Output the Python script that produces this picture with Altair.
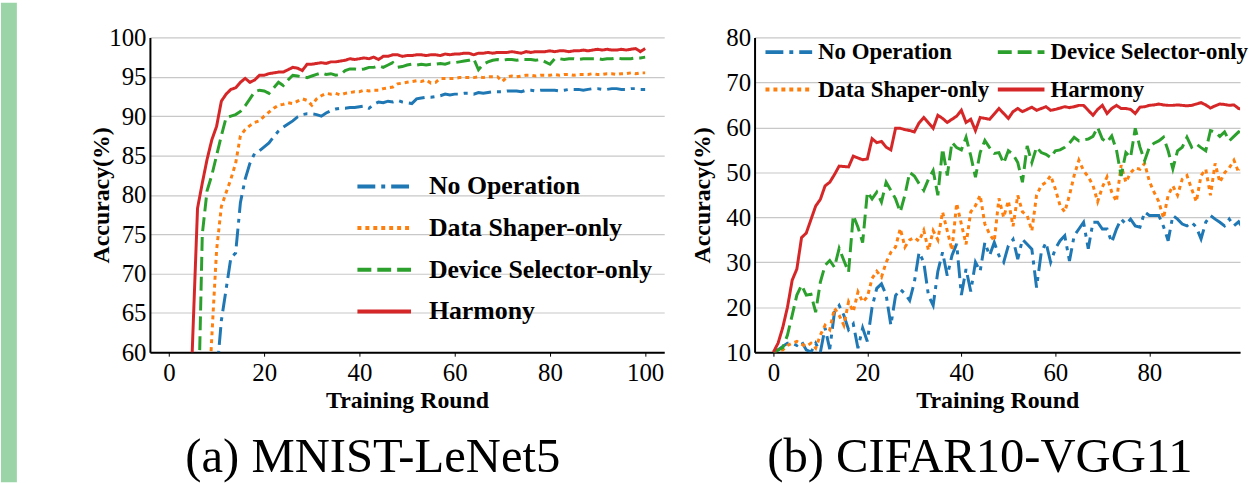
import altair as alt
import pandas as pd

rounds = list(range(101))
series_names = ["No Operation", "Data Shaper-only", "Device Selector-only", "Harmony"]
series_colors = ["#1f77b4", "#ff7f0e", "#2ca02c", "#d62728"]
series_dashes = [[18, 6, 4, 6], [4, 4], [14, 6], [1, 0]]

# (a) MNIST-LeNet5 accuracy per training round
mnist_noop = [10, 12, 14, 17, 20, 24, 28, 32, 36, 40, 57, 64, 68, 72, 72.6, 79, 82, 84, 85.3, 85.6,
              86.1, 86.6, 87.4, 88.1, 88.6, 89, 89.4, 89.9, 90.2, 90.3, 90.3, 90.2, 90, 90.4, 90.7, 90.9, 91, 91, 91.1, 91.1,
              91.2, 91.3, 91, 91.5, 91.8, 91.7, 91.9, 91.8, 92, 91.8, 91.7, 91.6, 92.2, 92.3, 92.4, 92.4, 92.5, 92.6, 92.8, 92.7,
              92.8, 92.8, 92.9, 92.9, 92.8, 93, 92.9, 93, 93.1, 93.1, 93.1, 93.2, 93.2, 93.2, 93.1, 93.3, 93.3, 93.2, 93.3, 93.3,
              93.3, 93.3, 93.2, 93.3, 93.4, 93.4, 93.4, 93.3, 93.4, 93.5, 93.5, 93.4, 93.4, 93.5, 93.5, 93.4, 93.4, 93.5, 93.5, 93.4,
              93.4]
mnist_shaper = [10, 13, 16, 20, 25, 30, 36, 42, 50, 62, 73, 78.5, 80.3, 82, 84, 87.5, 88.3, 88.8, 89.2, 89.4,
                90, 90.5, 91, 91.4, 91.5, 91.7, 91.6, 91.9, 92.2, 92, 91.4, 92.2, 92.6, 92.9, 92.8, 92.9, 92.7, 92.9, 93, 93.1,
                93.1, 93.3, 93.2, 93.3, 93.3, 93.5, 93.6, 93.7, 94.1, 94.2, 94.3, 94.4, 94.5, 94.4, 94.6, 94.2, 94.3, 94.8, 94.8, 94.8,
                94.8, 94.9, 94.9, 94.9, 94.9, 95, 94.9, 95, 95, 95, 94.4, 95, 95.1, 95, 95.1, 95.2, 95.2, 95.1, 95.2, 95.2,
                95.2, 95.3, 95.2, 95.3, 95.3, 95.2, 95.3, 95.3, 95.3, 95.4, 95.3, 95.3, 95.4, 95.4, 95.3, 95.4, 95.4, 95.5, 95.4, 95.5,
                95.5]
mnist_selector = [10, 14, 20, 30, 40, 45, 48, 75, 80.5, 82.5, 85, 87.5, 89.8, 90, 90.2, 90.6, 91.3, 92.2, 93.1, 93.3,
                  93.2, 92.9, 93.6, 94.3, 93.9, 94.6, 95.2, 95.1, 95, 94.9, 95.1, 95.3, 95.5, 95.3, 95.4, 95.2, 95.3, 95.8, 96, 96,
                  95.9, 96, 96.2, 96.2, 96.4, 96.2, 96.5, 96.8, 96.2, 96.3, 96.5, 96.6, 96.5, 96.6, 96.5, 96.6, 96.6, 96.7, 96.6, 96.8,
                  96.8, 96.9, 97, 97.1, 97.3, 95.9, 96.6, 96.9, 97.1, 97.2, 97.1, 97.2, 97.2, 97.1, 97.2, 97.2, 97.2, 97.1, 97.2, 96.9,
                  96.6, 97.3, 97.3, 97.2, 97.3, 97.3, 97.2, 97.3, 97.3, 97.3, 97.3, 97.2, 97.3, 97.3, 97.4, 97.3, 97.3, 97.3, 97.4, 97.4,
                  97.5]
mnist_harmony = [10, 15, 22, 32, 45, 62, 78.3, 81.5, 84.5, 87, 88.7, 91.9, 92.8, 93.4, 93.6, 94.3, 94.8, 94.3, 94.6, 95.2,
                 95.2, 95.4, 95.5, 95.6, 95.6, 95.9, 96.2, 96.1, 95.8, 96.6, 96.6, 96.7, 96.8, 96.7, 96.9, 96.9, 97, 97.1, 97.3, 97.2,
                 97.3, 97.4, 97.3, 97.5, 97.2, 97.6, 97.6, 97.8, 97.8, 97.6, 97.7, 97.7, 97.8, 97.8, 97.7, 97.8, 97.8, 97.7, 97.9, 97.8,
                 97.9, 97.9, 98, 98, 97.8, 98, 98, 98.1, 98, 98.1, 98.1, 98.1, 98.2, 98.1, 98, 98.2, 98.1, 98.2, 98.2, 98.2,
                 98.3, 98.2, 98.3, 98.3, 98.2, 98.3, 98.3, 98.4, 98.3, 98.4, 98.5, 98.4, 98.5, 98.4, 98.4, 98.5, 98.4, 98.5, 98.6, 98.2,
                 98.6]

# (b) CIFAR10-VGG11 accuracy per training round
cifar_noop = [10, 10.5, 11.3, 12, 12, 11.5, 12.4, 10.5, 10, 12, 10, 15.4, 10.7, 18.9, 20.4, 18.2, 15, 16.3, 10.9, 15.4,
              12.4, 20, 24.2, 25.2, 22.7, 16, 22.6, 24, 23, 21.5, 25.6, 32.2, 30, 22.6, 20.4, 28, 32.2, 27, 31.5, 34.1,
              22.7, 28.5, 23.5, 30, 28, 34.4, 31.5, 34.4, 31.5, 30, 33.7, 35.1, 30.7, 35.1, 34, 32.9, 24.4, 32.2, 34.4, 30,
              33, 34.8, 35.9, 30.3, 35.9, 37.4, 38.9, 33, 38.9, 38.9, 37.4, 37.4, 34.4, 37.4, 39.6, 38.5, 39.6, 38.1, 37.8, 41.2,
              40.4, 40.4, 40.4, 38, 34.8, 40.4, 39.6, 38.5, 38.1, 38.9, 37.8, 35.2, 38.9, 40.4, 39.6, 38.9, 38.1, 39.6, 38.1, 39,
              37.5]
cifar_shaper = [10, 10.2, 10.5, 11.5, 12, 12.4, 11.8, 11.3, 12, 10.9, 13.8, 16, 15, 19.8, 18.2, 16, 21.2, 19, 23.4, 21.2,
                22.3, 26.4, 28, 26.7, 30, 32.2, 33.4, 37.5, 33.4, 35, 35.5, 34.7, 37.1, 32.7, 37, 35, 41.2, 37, 32.7, 43.1,
                38.5, 34, 41.2, 42.6, 44.9, 38.5, 36.3, 34.7, 44.2, 40, 43.7, 38, 44.9, 41.2, 40.4, 37, 44.9, 47.1, 47.8, 49.3,
                46.3, 42.6, 41.2, 44.9, 49.3, 52.7, 50.4, 49, 47.1, 43.5, 46.7, 49, 45.6, 43.5, 51.6, 47.8, 49.9, 51, 50.7, 52,
                48, 45.6, 43.5, 39.8, 44.9, 47, 44.9, 48.5, 49.3, 46.3, 43.5, 49.3, 50.7, 44.9, 52, 47.8, 49.9, 51, 52.7, 50,
                51]
cifar_selector = [10, 10.5, 11, 13.8, 18.2, 22.7, 24.9, 22.7, 22.9, 18.9, 25.6, 29.3, 30.4, 28.9, 33.1, 30.4, 27.8, 40.4, 37.8, 34.4,
                  45.6, 44.1, 45.6, 43.4, 47.8, 46, 44.1, 41.2, 45, 50, 49.2, 47.5, 46, 48.5, 50.4, 44.9, 55.3, 49.3, 56.7, 55.5,
                  55, 57.8, 53.7, 48.9, 54.4, 57.1, 55.5, 54.2, 54.4, 52, 54.8, 54, 52.2, 47.8, 55.9, 52.2, 55.6, 54.4, 54, 53.3,
                  54.8, 55, 55.6, 56.5, 57.8, 57, 57.2, 57.4, 58, 60, 57.4, 56.7, 58.1, 55, 49.2, 54.4, 53.3, 59.8, 55.6, 52.6,
                  55.6, 56.5, 57, 57.8, 54.8, 50.8, 54.8, 55.6, 57.8, 55.6, 56.3, 55.5, 54.8, 59.3, 59, 58, 59, 57, 58, 59,
                  58.5]
cifar_harmony = [10, 12, 15.5, 20, 26, 28.5, 35.5, 36.5, 39.5, 42.5, 44, 47, 47.8, 49.5, 51.4, 51.3, 51.2, 53.6, 53.2, 52.8,
                 53, 57.5, 56.6, 56.9, 55.6, 55, 59.8, 59.8, 59.5, 59.3, 59, 61, 62.2, 61, 59.8, 62.7, 62, 61.1, 61.8, 62.5,
                 63.8, 61.1, 61.8, 59.3, 62.2, 62, 61.8, 63, 64.2, 63.1, 62, 63.5, 64.2, 63.5, 64, 64.5, 63.8, 64.2, 64.6, 63.8,
                 64, 64.3, 64.6, 64.4, 64.6, 64.9, 64.9, 63.8, 62.7, 64, 64.9, 63.1, 64.2, 64.9, 64.2, 64.2, 64, 63.1, 64.5, 64.6,
                 64.9, 65, 65.2, 65, 64.9, 64.9, 65, 64.9, 64.8, 64.9, 65.2, 65.5, 65, 64.3, 64.8, 65.2, 65.1, 64.9, 65, 64.2,
                 64]

mnist_x_ticks = [0, 20, 40, 60, 80, 100]
cifar_x_ticks = [0, 20, 40, 60, 80]
mnist_y_ticks = [60, 65, 70, 75, 80, 85, 90, 95, 100]
cifar_y_ticks = [10, 20, 30, 40, 50, 60, 70, 80]

FONT = "Liberation Serif"
PLOT_H = 317


def long_df(values_list):
    rows = []
    for name, vals in zip(series_names, values_list):
        for r, v in zip(rounds, vals):
            rows.append({"round": r, "acc": v, "series": name})
    return pd.DataFrame(rows)


mnist_df = long_df([mnist_noop, mnist_shaper, mnist_selector, mnist_harmony])
cifar_df = long_df([cifar_noop, cifar_shaper, cifar_selector, cifar_harmony])


def panel(df, xdomain, xticks, width, ydomain, yticks, title_x, legend, order, caption, cap_dx):
    colors = [series_colors[series_names.index(n)] for n in order]
    dashes = [series_dashes[series_names.index(n)] for n in order]
    x = alt.X("round:Q", scale=alt.Scale(domain=xdomain, nice=False, zero=False),
              axis=alt.Axis(values=xticks, title="Training Round", grid=False, ticks=True, tickSize=4,
                            tickColor="black", domainColor="black", domainWidth=2, labelPadding=5,
                            titlePadding=3, labelFontSize=25, titleFontSize=24, labelFont=FONT,
                            titleFont=FONT, titleFontWeight="bold", labelColor="black", titleColor="black"))
    y = alt.Y("acc:Q", scale=alt.Scale(domain=ydomain, nice=False, zero=False),
              axis=alt.Axis(values=yticks, title="Accuracy(%)", grid=True, gridColor="#c8c8c8", gridWidth=1.2,
                            ticks=False, domainColor="black", domainWidth=2, labelPadding=4,
                            labelFontSize=25, titleFontSize=24, labelFont=FONT, titleFont=FONT,
                            titleFontWeight="bold", labelColor="black", titleColor="black",
                            titleX=title_x, titleY=PLOT_H / 2))
    leg = alt.Legend(**legend)
    return alt.Chart(df).mark_line(strokeWidth=3, clip=True, strokeCap="butt").encode(
        x=x, y=y,
        color=alt.Color("series:N", scale=alt.Scale(domain=order, range=colors), legend=leg),
        strokeDash=alt.StrokeDash("series:N", scale=alt.Scale(domain=order, range=dashes), legend=leg),
        order=alt.Order("round:Q"),
    ).properties(
        width=width, height=PLOT_H,
        title=alt.TitleParams(caption, orient="bottom", fontSize=49, font=FONT, fontWeight="normal",
                              anchor="middle", frame="bounds", offset=21, dx=cap_dx, color="black"),
    )


left_legend = dict(title=None, orient="none", legendX=207, legendY=121, symbolType="stroke",
                   symbolSize=2916, symbolStrokeWidth=4, labelOffset=16, labelFont=FONT,
                   labelFontSize=26, labelFontWeight="bold", labelColor="black", labelLimit=400,
                   rowPadding=-12, padding=0)
right_legend = dict(title=None, orient="none", legendX=9, legendY=-11, symbolType="stroke",
                    symbolSize=2209, symbolStrokeWidth=4, labelOffset=4, labelFont=FONT,
                    labelFontSize=23, labelFontWeight="bold", labelColor="black", labelLimit=400,
                    columns=2, columnPadding=0, rowPadding=-27, padding=0, direction="horizontal")

left = panel(mnist_df, [-4, 104], mnist_x_ticks, 518, [60, 100], mnist_y_ticks, -37, left_legend,
             series_names, "(a) MNIST-LeNet5", -4)
right_order = ["No Operation", "Device Selector-only", "Data Shaper-only", "Harmony"]
right = panel(cifar_df, [-4, 99.3], cifar_x_ticks, 489, [10, 80], cifar_y_ticks, -40, right_legend,
              right_order, "(b) CIFAR10-VGG11", 10)

dummy = pd.DataFrame({"d": [0]})
strip = alt.Chart(dummy).mark_point(opacity=0, size=1).encode(
    x=alt.value(0), y=alt.value(0)
).properties(width=16, height=483, view=alt.ViewBackground(fill="#9bd5a7", stroke=None))
spacer = alt.Chart(dummy).mark_point(opacity=0, size=1).encode(
    x=alt.value(0), y=alt.value(0)
).properties(width=10, height=23, view=alt.ViewBackground(stroke=None))

row = alt.hconcat(left, right, spacing=27).resolve_scale(
    color="independent", strokeDash="independent").resolve_legend(
    color="independent", strokeDash="independent")

chart = alt.hconcat(strip, alt.vconcat(spacer, row, spacing=0), spacing=73).properties(
    padding={"left": 0, "top": 0, "right": 0, "bottom": 0},
    background="white",
).configure(
    font=FONT
).configure_view(
    stroke=None
)

chart.save("out.html", embed_options={"renderer": "svg", "actions": False})
